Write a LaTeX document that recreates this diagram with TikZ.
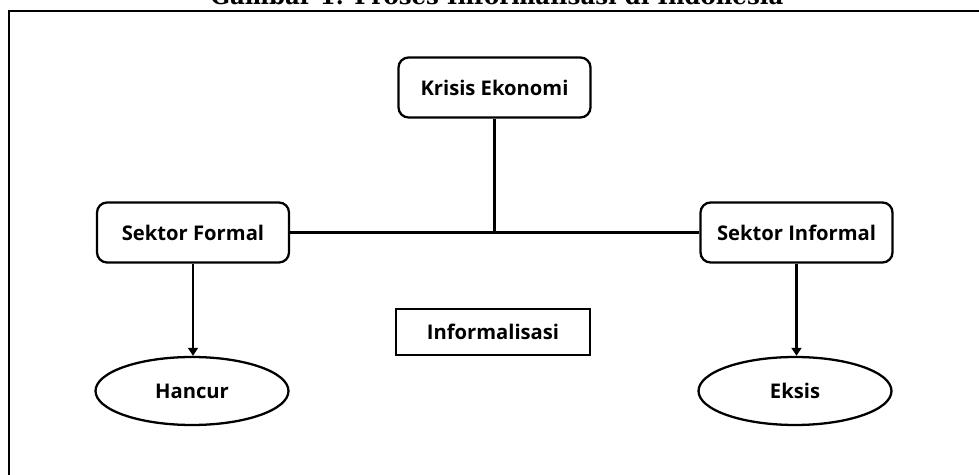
\documentclass[tikz,border=0pt]{standalone}
\usepackage{fontspec}
\setsansfont{Open Sans}
\newfontfamily\titlefont{DejaVu Serif}
\usetikzlibrary{positioning, arrows.meta, shapes.geometric}

\begin{document}
\begin{tikzpicture}[x=0.02cm, y=-0.02cm, >={Triangle[length=4.5pt,width=5.5pt]},
    line width=1.3pt,
    every node/.style={font=\sffamily\bfseries\fontsize{11.5}{13}\selectfont},
    roundbox/.style={draw, rounded corners=0.2cm, minimum width=3.84cm, minimum height=1.2cm},
    plainbox/.style={draw, minimum width=3.88cm, minimum height=0.92cm},
    resultoval/.style={draw, ellipse, minimum width=3.86cm, minimum height=1.36cm}]

    % ---------- canvas ----------
    \useasboundingbox (0,0) rectangle (979,475);
    \clip (0,0) rectangle (979,475);
    \fill[white] (0,0) rectangle (979,475);

    % ---------- caption (cut off at the top) ----------
    \node[anchor=base, font=\titlefont\bfseries\fontsize{13}{15}\selectfont, inner sep=0pt]
      (caption) at (497,5) {Gambar 1. Proses Informalisasi di Indonesia};

    % ---------- frame ----------
    \draw (9,11) rectangle (1000,500);

    % ---------- boxes ----------
    \node[roundbox] (krisis)   at (494.5,87.5)  {Krisis Ekonomi};
    \node[roundbox] (formal)   at (193,232.5)   {Sektor Formal};
    \node[roundbox] (informal) at (796.5,232.5) {Sektor Informal};
    \node[plainbox] (proses)   at (493,332)     {Informalisasi};

    % ---------- outcomes ----------
    \node[resultoval] (hancur) at (192,391) {Hancur};
    \node[resultoval] (eksis)  at (795,391) {Eksis};

    % ---------- connectors ----------
    \coordinate (junc) at (krisis.south |- formal.east);
    \draw (formal.east) -- (informal.west);
    \draw (krisis.south) -- (junc);
    \draw[->] (formal.south) -- (formal.south |- hancur.north);
    \draw[->] (informal.south) -- (informal.south |- eksis.north);

\end{tikzpicture}
\end{document}
